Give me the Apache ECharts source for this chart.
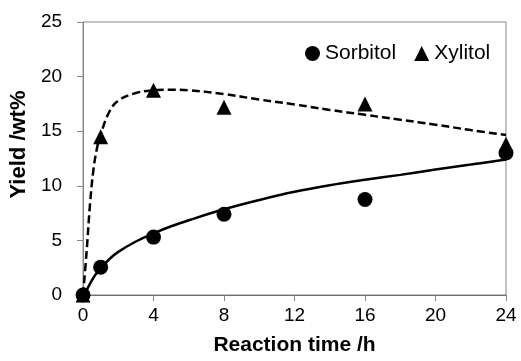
<!DOCTYPE html>
<html>
<head>
<meta charset="utf-8">
<script src="https://cdn.jsdelivr.net/npm/echarts@6/dist/echarts.min.js"></script>
<style>
  html, body { margin: 0; padding: 0; background: #fff; }
  #chart { width: 521px; height: 361px; }
</style>
</head>
<body>
<div id="chart"></div>
<script>
// measured points
var times = [0, 1, 4, 8, 16, 24];
var sorbitol = [0, 2.55, 5.3, 7.4, 8.75, 13.0];
var xylitol = [0, 14.5, 18.75, 17.2, 17.5, 13.8];

// fitted curves
var fitTime = [0, 0.2, 0.4, 0.6, 0.8, 1, 1.5, 2, 3, 4, 5, 6, 8, 10, 12, 14, 16, 18, 20, 22, 24];
var sorbitolFit = [0, 0.45, 1.05, 1.6, 2.05, 2.45, 3.3, 3.95, 4.9, 5.65, 6.3, 6.85, 7.85, 8.7, 9.45, 10.05, 10.55, 11.0, 11.5, 11.95, 12.4];
var xylitolFit = [0, 3.9, 8.4, 11.6, 13.5, 14.7, 16.8, 17.8, 18.5, 18.75, 18.8, 18.75, 18.4, 17.9, 17.45, 16.95, 16.5, 16.05, 15.6, 15.1, 14.65];

var xTicks = [0, 4, 8, 12, 16, 20, 24];

function pairs (xs, ys)
{
    return xs.map(function (x, i) { return [x, ys[i]]; });
}

var myChart = echarts.init(document.getElementById('chart'));
var font = 'Liberation Sans, Arial, sans-serif';
var axisGray = '#868686';

var option = {
    animation: false,
    textStyle: { fontFamily: font },
    grid: {
        left: 80,
        right: 15,
        top: 22,
        bottom: 61,
        show: true,
        borderColor: axisGray,
        borderWidth: 1
    },
    legend: {
        left: 300,
        top: 38,
        itemWidth: 15,
        itemHeight: 15,
        itemGap: 18,
        textStyle: { fontSize: 21, color: '#000', fontFamily: font },
        itemStyle: { opacity: 1 },
        data: [
            { name: 'Sorbitol', icon: 'circle' },
            { name: 'Xylitol', icon: 'triangle' }
        ]
    },
    xAxis: {
        type: 'value',
        min: 0,
        max: 24,
        interval: 4,
        name: 'Reaction time /h',
        nameLocation: 'middle',
        nameGap: 40,
        nameTextStyle: { fontSize: 21, fontWeight: 'bold', color: '#000' },
        axisLine: { lineStyle: { color: '#6e6e6e', width: 1 } },
        axisTick: { show: true, length: 6, lineStyle: { color: axisGray } },
        axisLabel: {
            fontSize: 19,
            color: '#000',
            margin: 11,
            formatter: function (v) { return xTicks.indexOf(v) >= 0 ? String(v) : ''; }
        },
        splitLine: { show: false }
    },
    yAxis: {
        type: 'value',
        min: 0,
        max: 25,
        interval: 5,
        name: 'Yield /wt%',
        nameLocation: 'middle',
        nameGap: 51,
        nameTextStyle: { fontSize: 22, fontWeight: 'bold', color: '#000', padding: [0, 0, 0, 28] },
        axisLine: { show: true, lineStyle: { color: axisGray, width: 1 } },
        axisTick: { show: true, length: 6, lineStyle: { color: axisGray } },
        axisLabel: { fontSize: 19, color: '#000', margin: 21 },
        splitLine: { show: false }
    },
    series: [
        {
            name: 'Xylitol fit',
            type: 'line',
            data: pairs(fitTime, xylitolFit),
            showSymbol: false,
            smooth: 0.4,
            clip: false,
            lineStyle: { color: '#000', width: 2.5, type: [8, 4] },
            silent: true,
            z: 2
        },
        {
            name: 'Sorbitol fit',
            type: 'line',
            data: pairs(fitTime, sorbitolFit),
            showSymbol: false,
            smooth: 0.4,
            clip: false,
            lineStyle: { color: '#000', width: 2.5, type: 'solid' },
            silent: true,
            z: 2
        },
        {
            name: 'Xylitol',
            type: 'scatter',
            data: pairs(times, xylitol),
            symbol: 'triangle',
            symbolSize: 15,
            clip: false,
            itemStyle: { color: '#000', opacity: 1 },
            z: 3
        },
        {
            name: 'Sorbitol',
            type: 'scatter',
            data: pairs(times, sorbitol),
            symbol: 'circle',
            symbolSize: 15,
            clip: false,
            itemStyle: { color: '#000', opacity: 1 },
            z: 4
        }
    ]
};
myChart.setOption(option);
</script>
</body>
</html>
